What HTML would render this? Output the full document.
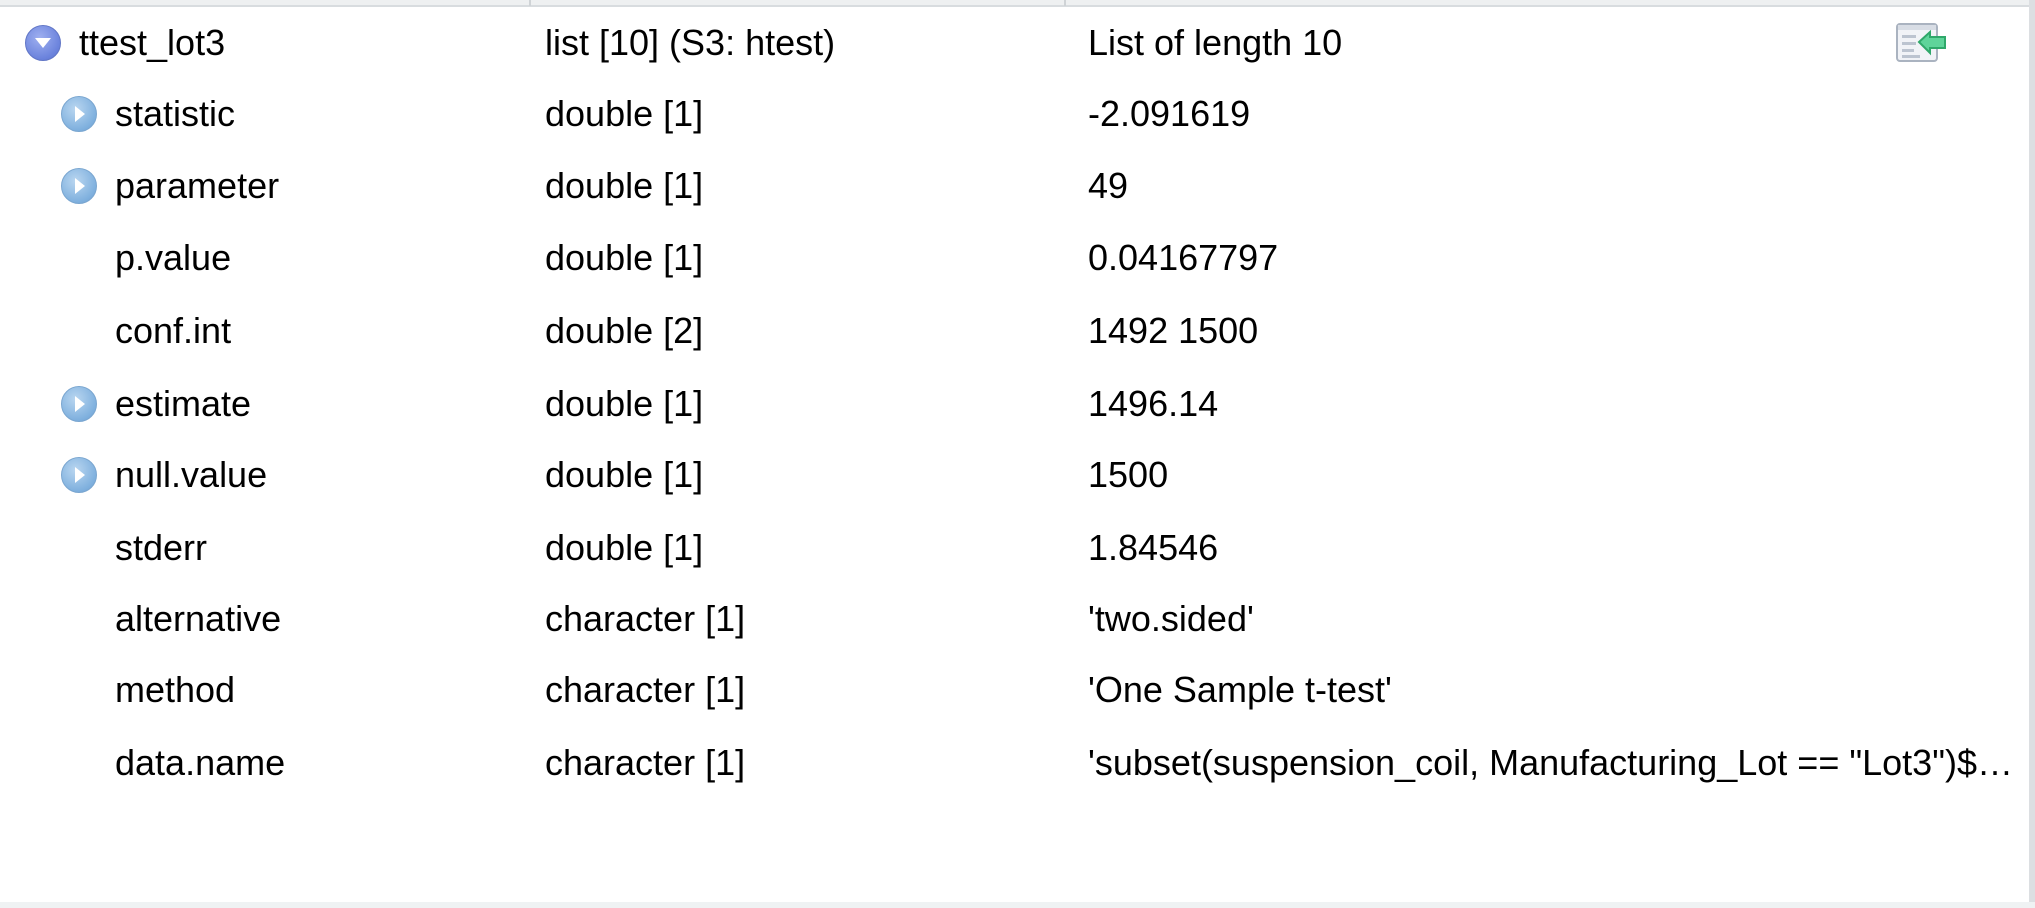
<!DOCTYPE html>
<html><head><style>
body{margin:0;width:2035px;height:908px;background:#fff;position:relative;overflow:hidden;font-family:"Liberation Sans",Arial,sans-serif;font-size:36px;color:#000}
.t{position:absolute;white-space:nowrap;line-height:40px}
.ic{position:absolute;width:36px;height:36px;border-radius:50%;}
.ch{background:radial-gradient(circle at 40% 35%,#b9d6f0,#7fb0de 70%,#6a9ccc);border:1px solid #7aa6d0;box-sizing:border-box}
.rt{background:radial-gradient(circle at 40% 35%,#9fb0f0,#6a82dc 70%,#5a70c8);border:1px solid #6176c6;box-sizing:border-box}
</style></head><body>
<div style="position:absolute;left:0;top:0;width:2035px;height:5px;background:#eef0f1"></div>
<div style="position:absolute;left:0;top:5px;width:2035px;height:2px;background:#d8dcdf"></div>
<div style="position:absolute;left:529px;top:0;width:2px;height:6px;background:#cfd3d6"></div>
<div style="position:absolute;left:1064px;top:0;width:2px;height:6px;background:#cfd3d6"></div>
<div style="position:absolute;left:2029px;top:0;width:6px;height:908px;background:#dcdfe2"></div>
<div style="position:absolute;left:0;top:902px;width:2035px;height:6px;background:#eff2f3"></div>

<div class="ic rt" style="left:25px;top:25px"><svg width="34" height="34" style="position:absolute;left:0;top:0"><polygon points="9,12 25,12 17,22" fill="#fff"/></svg></div>
<div class="t" style="left:79px;top:23px">ttest_lot3</div>
<div class="t" style="left:545px;top:23px">list [10] (S3: htest)</div>
<div class="t" style="left:1088px;top:23px">List of length 10</div>

<svg style="position:absolute;left:1896px;top:22px" width="52" height="42">
<rect x="1" y="2" width="40" height="37" rx="3" fill="#f1f3f7" stroke="#aab3c0" stroke-width="2"/>
<rect x="2" y="3" width="38" height="5" fill="#d8dde5"/>
<rect x="6" y="13" width="14" height="3" fill="#bcc4d0"/><rect x="6" y="20" width="14" height="3" fill="#bcc4d0"/><rect x="6" y="27" width="12" height="3" fill="#bcc4d0"/><rect x="6" y="33" width="18" height="3" fill="#bcc4d0"/>
<polygon points="23,20 34,10 34,15 49,15 49,26 34,26 34,31" fill="#5fd49a" stroke="#2fa86a" stroke-width="2"/>
</svg>

<div class="ic ch" style="left:61px;top:96px"><svg width="34" height="34" style="position:absolute;left:0;top:0"><polygon points="13,9 23,17 13,25" fill="#fff"/></svg></div>
<div class="t" style="left:115px;top:94px">statistic</div><div class="t" style="left:545px;top:94px">double [1]</div><div class="t" style="left:1088px;top:94px">-2.091619</div>

<div class="ic ch" style="left:61px;top:168px"><svg width="34" height="34" style="position:absolute;left:0;top:0"><polygon points="13,9 23,17 13,25" fill="#fff"/></svg></div>
<div class="t" style="left:115px;top:166px">parameter</div><div class="t" style="left:545px;top:166px">double [1]</div><div class="t" style="left:1088px;top:166px">49</div>

<div class="t" style="left:115px;top:238px">p.value</div><div class="t" style="left:545px;top:238px">double [1]</div><div class="t" style="left:1088px;top:238px">0.04167797</div>
<div class="t" style="left:115px;top:311px">conf.int</div><div class="t" style="left:545px;top:311px">double [2]</div><div class="t" style="left:1088px;top:311px">1492 1500</div>

<div class="ic ch" style="left:61px;top:386px"><svg width="34" height="34" style="position:absolute;left:0;top:0"><polygon points="13,9 23,17 13,25" fill="#fff"/></svg></div>
<div class="t" style="left:115px;top:384px">estimate</div><div class="t" style="left:545px;top:384px">double [1]</div><div class="t" style="left:1088px;top:384px">1496.14</div>

<div class="ic ch" style="left:61px;top:457px"><svg width="34" height="34" style="position:absolute;left:0;top:0"><polygon points="13,9 23,17 13,25" fill="#fff"/></svg></div>
<div class="t" style="left:115px;top:455px">null.value</div><div class="t" style="left:545px;top:455px">double [1]</div><div class="t" style="left:1088px;top:455px">1500</div>

<div class="t" style="left:115px;top:528px">stderr</div><div class="t" style="left:545px;top:528px">double [1]</div><div class="t" style="left:1088px;top:528px">1.84546</div>
<div class="t" style="left:115px;top:599px">alternative</div><div class="t" style="left:545px;top:599px">character [1]</div><div class="t" style="left:1088px;top:599px">'two.sided'</div>
<div class="t" style="left:115px;top:670px">method</div><div class="t" style="left:545px;top:670px">character [1]</div><div class="t" style="left:1088px;top:670px">'One Sample t-test'</div>
<div class="t" style="left:115px;top:743px">data.name</div><div class="t" style="left:545px;top:743px">character [1]</div><div class="t" style="left:1088px;top:743px">'subset(suspension_coil, Manufacturing_Lot == "Lot3")$…</div>
</body></html>
